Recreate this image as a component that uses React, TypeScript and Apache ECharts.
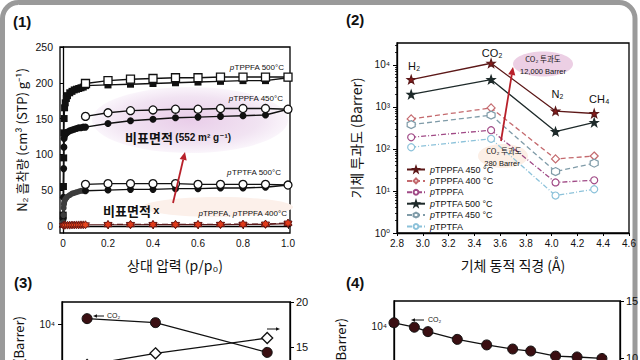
import React, { useEffect, useRef } from 'react';
import * as echarts from 'echarts';

// ---------- Panel (1): N2 adsorption ----------
const p1Pressure = [0.1, 0.2, 0.3, 0.4, 0.5, 0.6, 0.7, 0.8, 0.9, 1.0];
const p1LowPressure = [0.001, 0.002, 0.003, 0.004, 0.005, 0.007, 0.01, 0.015, 0.02, 0.03, 0.04, 0.05, 0.06, 0.07, 0.08, 0.09];
const tppfa500Low = [15, 55, 95, 130, 150, 165, 172, 178, 182, 186, 188, 190, 191, 192, 193, 194];
const tppfa500Ads = [196, 197, 198, 199, 200, 201, 202, 203, 203, 207];
const tppfa500Des = [199, 203, 205, 206, 207, 207, 208, 208, 208, 208];
const tppfa450Low = [10, 40, 80, 110, 122, 126, 128, 130, 131, 133, 134, 135, 136, 137, 137, 138];
const tppfa450Ads = [138, 143, 147, 149, 151, 152, 153, 154, 155, 163];
const tppfa450Des = [153, 158, 161, 162, 163, 163, 164, 164, 164, 163];
const tptfa500Low = [5, 15, 25, 30, 32, 35, 37, 39, 41, 43, 45, 46, 47, 48, 49, 49];
const tptfa500Ads = [49, 50, 51, 51, 52, 52, 53, 53, 54, 57];
const tptfa500Des = [58, 59, 59, 59, 59, 58, 58, 58, 58, 57];
const redLowPressure = [0.002, 0.005, 0.01, 0.02, 0.03, 0.04, 0.05, 0.06, 0.07, 0.08, 0.09, 0.1];
const tppfaLow = [0.5, 0.8, 1, 1, 1, 1.2, 1.2, 1.3, 1.3, 1.4, 1.4, 1.5];
const redPressure = [0.2, 0.3, 0.4, 0.5, 0.6, 0.7, 0.8, 0.9, 1.0];
const tppfaRaw = [1.5, 1.5, 1.6, 1.6, 1.7, 1.8, 1.9, 2, 3];
const tppfa400 = [2, 2, 2, 2, 2, 2.2, 2.4, 2.6, 4];
const p1YTicks = [0, 50, 100, 150, 200, 250];
const p1XTicks = [0, 0.2, 0.4, 0.6, 0.8, 1.0];

// ---------- Panel (2): permeability vs kinetic diameter ----------
const gasNames = ['H₂', 'CO₂', 'N₂', 'CH₄'];
const kineticDiameter = [2.91, 3.53, 4.03, 4.33];
const permTppfa450 = [4500, 11000, 800, 700];
const permTppfa400 = [520, 950, 58, 68];
const permTppfa = [190, 280, 16, 18];
const permTptfa500 = [2000, 4500, 260, 430];
const permTptfa450 = [380, 640, 29, 46];
const permTptfa = [110, 175, 7.8, 11];
const p2Decades = [1, 10, 100, 1000, 10000];

// ---------- Panel (3) ----------
const p3X = [1.1, 4.1, 9.0];
const p3Perm = [13500, 11000, 2400];
const p3Right = [13, 14.3, 16];
const p3RightTicks = [15, 20];
const p3LeftTicks = [10000];

// ---------- Panel (4) ----------
const p4X = [0, 9, 15, 28, 41, 52.5, 60.5, 71.5, 81, 92];
const p4Perm = [11800, 9400, 7500, 5050, 3800, 3080, 2780, 2150, 2050, 1900];
const p4RightTicks = [10, 15];
const p4LeftTicks = [10000];

const STAR6 = 'path://M0,-10L2.885,-5L8.66,-5L5.77,0L8.66,5L2.885,5L0,10L-2.885,5L-8.66,5L-5.77,0L-8.66,-5L-2.885,-5Z';
const STAR5 = 'path://M0,-10L2.351,-3.236L9.511,-3.09L3.804,1.236L5.878,8.09L0,4L-5.878,8.09L-3.804,1.236L-9.511,-3.09L-2.351,-3.236Z';
const HEX = 'path://M0,-10L8.66,-5L8.66,5L0,10L-8.66,5L-8.66,-5Z';

const SANS = "'Liberation Sans', 'DejaVu Sans', Arial, sans-serif";
const KR = "'Noto Sans CJK KR', 'Liberation Sans', sans-serif";
const SUP: Record<string, string> = { '0': '⁰', '1': '¹', '2': '²', '3': '³', '4': '⁴', '5': '⁵' };
const logLabel = (v: number) => '10' + SUP[String(Math.round(Math.log10(v)))];

const pair = (xs: number[], ys: number[]) => xs.map((x, i) => [x, ys[i]]);

function minorTicks(minExp: number, maxExp: number, maxVal: number) {
  const out: number[] = [];
  for (let e = minExp; e <= maxExp; e++) {
    for (let m = 2; m <= 9; m++) {
      const v = m * Math.pow(10, e);
      if (v < maxVal) out.push(v);
    }
  }
  return out;
}

function arrow(x1: number, y1: number, x2: number, y2: number, color: string, width: number, head: number) {
  const dx = x2 - x1, dy = y2 - y1, L = Math.hypot(dx, dy);
  const ux = dx / L, uy = dy / L;
  const bx = x2 - ux * head, by = y2 - uy * head;
  const px = -uy, py = ux, hw = head * 0.45;
  return [
    { type: 'line', z: 50, shape: { x1, y1, x2: bx, y2: by }, style: { stroke: color, lineWidth: width } },
    { type: 'polygon', z: 50, shape: { points: [[x2, y2], [bx + px * hw, by + py * hw], [bx - px * hw, by - py * hw]] }, style: { fill: color } },
  ];
}

function txt(x: number, y: number, text: string, opts: any = {}) {
  return {
    type: 'text', z: 60, x, y,
    style: {
      text, fill: opts.fill || '#111', fontSize: opts.fontSize || 9, fontFamily: opts.fontFamily || SANS,
      fontWeight: opts.fontWeight || 'normal', align: opts.align || 'left', verticalAlign: 'middle',
      rich: opts.rich,
    },
    rotation: opts.rotation || 0,
  };
}

const italicRich = (size: number) => ({ i: { fontStyle: 'italic', fontSize: size, fontFamily: SANS, fill: '#111' } });

export default function App() {
  const ref = useRef<HTMLDivElement>(null);
  useEffect(() => {
    document.body.style.margin = '0';
    const chart = echarts.init(ref.current!, null, { renderer: 'svg' });
    const axisLineStyle = { lineStyle: { color: '#000', width: 1.3 } };
    const tickLabel = { color: '#111', fontSize: 10, fontFamily: SANS };
    const gridBase = { show: true, borderColor: '#000', borderWidth: 1.3, backgroundColor: 'transparent', outerBoundsMode: 'none' };

    const openItem = { color: '#fff', borderColor: '#111', borderWidth: 1.3 };
    const blackLine = { color: '#111', width: 1.4 };

    const gasItem = (i: number, v: number) => ({
      value: [kineticDiameter[i], v],
      label: {
        show: true, formatter: gasNames[i], position: 'top',
        distance: [3, 0, 7, 4][i], offset: [[3, 0], [1, 0], [2, 0], [5, 0]][i],
        color: '#111', fontSize: 11, fontFamily: SANS,
      },
    });

    const p2Series = [
      { name: 'pTPPFA 450 °C', data: permTppfa450.map((v, i) => gasItem(i, v)), color: '#5c1818', sym: STAR5, fill: '#8a1c1c', dash: 'solid', size: 8 },
      { name: 'pTPPFA 400 °C', data: pair(kineticDiameter, permTppfa400), color: '#c46a6e', sym: 'diamond', fill: '#fff', dash: [5, 3], size: 8 },
      { name: 'pTPPFA', data: pair(kineticDiameter, permTppfa), color: '#a04a86', sym: 'circle', fill: '#fff', dash: [5, 2, 1, 2], size: 7 },
      { name: 'pTPTFA 500 °C', data: pair(kineticDiameter, permTptfa500), color: '#1e2a2a', sym: STAR5, fill: '#1e2a2a', dash: 'solid', size: 8 },
      { name: 'pTPTFA 450 °C', data: pair(kineticDiameter, permTptfa450), color: '#7f9ba8', sym: HEX, fill: '#fff', dash: [5, 3], size: 8 },
      { name: 'pTPTFA', data: pair(kineticDiameter, permTptfa), color: '#8cc2da', sym: 'circle', fill: '#fff', dash: [5, 2, 1, 2], size: 7 },
    ];

    const series: any[] = [
      // panel 1
      { type: 'line', name: 'a500', xAxisIndex: 0, yAxisIndex: 0, z: 3, data: pair(p1LowPressure, tppfa500Low).concat(pair(p1Pressure, tppfa500Ads)), symbol: 'rect', symbolSize: 7, itemStyle: { color: '#111' }, lineStyle: blackLine },
      { type: 'line', name: 'd500', xAxisIndex: 0, yAxisIndex: 0, z: 4, data: pair(p1Pressure, tppfa500Des), symbol: 'rect', symbolSize: 8, itemStyle: openItem, lineStyle: blackLine },
      { type: 'line', name: 'a450', xAxisIndex: 0, yAxisIndex: 0, z: 3, data: pair(p1LowPressure, tppfa450Low).concat(pair(p1Pressure, tppfa450Ads)), symbol: 'circle', symbolSize: 7, itemStyle: { color: '#111' }, lineStyle: blackLine },
      { type: 'line', name: 'd450', xAxisIndex: 0, yAxisIndex: 0, z: 4, data: pair(p1Pressure, tppfa450Des), symbol: 'circle', symbolSize: 8, itemStyle: openItem, lineStyle: blackLine },
      { type: 'line', name: 'aT500low', xAxisIndex: 0, yAxisIndex: 0, z: 3, data: pair(p1LowPressure, tptfa500Low), symbol: 'circle', symbolSize: 6, itemStyle: { color: '#3c3c3c' }, lineStyle: { color: '#3c3c3c', width: 3 } },
      { type: 'line', name: 'aT500', xAxisIndex: 0, yAxisIndex: 0, z: 3, data: pair(p1Pressure, tptfa500Ads), symbol: 'circle', symbolSize: 7, itemStyle: { color: '#111' }, lineStyle: blackLine },
      { type: 'line', name: 'dT500', xAxisIndex: 0, yAxisIndex: 0, z: 4, data: pair(p1Pressure, tptfa500Des), symbol: 'circle', symbolSize: 8, itemStyle: openItem, lineStyle: blackLine },
      { type: 'line', name: 'rawTPPFA', xAxisIndex: 0, yAxisIndex: 0, z: 5, data: pair(redLowPressure, tppfaLow).concat(pair(redPressure, tppfaRaw)), symbol: STAR6, symbolSize: 8, itemStyle: { color: '#e8461e', borderColor: '#5a1010', borderWidth: 0.8 }, lineStyle: { color: '#5a1a1a', width: 1.2 } },
      { type: 'line', name: 't400', xAxisIndex: 0, yAxisIndex: 0, z: 5, data: pair(redPressure, tppfa400), symbol: STAR6, symbolSize: 8, itemStyle: { color: '#e03a1a', borderColor: '#5a1010', borderWidth: 0.8 }, lineStyle: { color: '#5a1a1a', width: 1.2, type: [6, 3] } },
      // panel 2
      ...p2Series.map((s) => ({
        type: 'line', name: s.name, xAxisIndex: 1, yAxisIndex: 1, z: 4, data: s.data,
        symbol: s.sym, symbolSize: s.size,
        itemStyle: { color: s.fill, borderColor: s.color, borderWidth: 1.2 },
        lineStyle: { color: s.color, width: 1.3, type: s.dash },
      })),
      // panel 3
      { type: 'line', name: 'p3perm', xAxisIndex: 2, yAxisIndex: 3, z: 4, data: pair(p3X, p3Perm), symbol: 'circle', symbolSize: 10, itemStyle: { color: '#3a0f12', borderColor: '#111', borderWidth: 1 }, lineStyle: { color: '#111', width: 1.3 } },
      { type: 'line', name: 'p3sel', xAxisIndex: 2, yAxisIndex: 4, z: 4, data: pair(p3X, p3Right), symbol: 'diamond', symbolSize: 11, itemStyle: openItem, lineStyle: { color: '#111', width: 1.3 } },
      // panel 4
      { type: 'line', name: 'p4perm', xAxisIndex: 3, yAxisIndex: 5, z: 4, data: pair(p4X, p4Perm), symbol: 'circle', symbolSize: 10, itemStyle: { color: '#3a0f12', borderColor: '#111', borderWidth: 1 }, lineStyle: { color: '#111', width: 1.3 } },
    ];

    const graphic: any[] = [
      { type: 'rect', z: 0, shape: { x: 2.5, y: 2.5, width: 632.5, height: 520, r: 16 }, style: { fill: 'none', stroke: '#9a9a9a', lineWidth: 5 } },
      // highlight ellipses
      { type: 'ellipse', z: 1, shape: { cx: 190, cy: 120, rx: 98, ry: 33 }, style: { fill: new echarts.graphic.RadialGradient(0.5, 0.5, 0.5, [{ offset: 0, color: '#e9cde9' }, { offset: 0.7, color: '#f1e3f2' }, { offset: 1, color: '#faf5fb' }]) } },
      { type: 'ellipse', z: 1, shape: { cx: 218, cy: 207, rx: 75, ry: 10 }, style: { fill: '#fcf0ea' } },
      { type: 'ellipse', z: 1, shape: { cx: 543, cy: 64, rx: 30, ry: 12.5 }, style: { fill: '#eccfe4' } },
      { type: 'ellipse', z: 1, shape: { cx: 503, cy: 156, rx: 25, ry: 12 }, style: { fill: '#fcefe6' } },
      // panel labels
      txt(13, 21, '(1)', { fontSize: 15, fontWeight: 'bold' }),
      txt(346, 19, '(2)', { fontSize: 15, fontWeight: 'bold' }),
      txt(14, 282, '(3)', { fontSize: 15, fontWeight: 'bold' }),
      txt(346, 282, '(4)', { fontSize: 15, fontWeight: 'bold' }),
      // panel 1 annotations
      txt(284, 67, '{i|p}TPPFA 500°C', { fontSize: 8, align: 'right', rich: italicRich(8) }),
      txt(283, 98, '{i|p}TPPFA 450°C', { fontSize: 8, align: 'right', rich: italicRich(8) }),
      txt(281, 172, '{i|p}TPTFA 500°C', { fontSize: 8, align: 'right', rich: italicRich(8) }),
      txt(287, 213, '{i|p}TPPFA, {i|p}TPPFA 400°C', { fontSize: 8, align: 'right', rich: italicRich(8) }),
      txt(125, 137, '{k|비표면적} {n|(552 m² g⁻¹)}', {
        rich: {
          k: { fontSize: 13, fontWeight: 'bold', fontFamily: KR, fill: '#111' },
          n: { fontSize: 10, fontWeight: 'bold', fontFamily: SANS, fill: '#111' },
        },
      }),
      txt(103, 210, '{k|비표면적} {n|x}', {
        rich: {
          k: { fontSize: 13, fontWeight: 'bold', fontFamily: KR, fill: '#111' },
          n: { fontSize: 11, fontWeight: 'bold', fontFamily: SANS, fill: '#111' },
        },
      }),
      ...arrow(173, 203, 185, 152, '#b8202a', 1.8, 8),
      // panel 2 annotations
      txt(543, 58, 'CO₂ 투과도', { fontSize: 7.5, align: 'center', fontFamily: KR }),
      txt(543, 71, '12,000 Barrer', { fontSize: 7.5, align: 'center' }),
      txt(504, 150, 'CO₂ 투과도', { fontSize: 7.5, align: 'center', fontFamily: KR }),
      txt(502, 163, '280 Barrer', { fontSize: 7.5, align: 'center' }),
      ...arrow(501, 141, 513, 67, '#b8202a', 1.8, 8),
      // panel 3/4 annotations
      ...arrow(104, 316, 93, 316, '#111', 1, 4),
      txt(107, 315, 'CO₂', { fontSize: 7 }),
      ...arrow(267, 329, 280, 329, '#111', 1, 4),
      ...arrow(424, 320, 411, 320, '#111', 1, 4),
      txt(428, 319, 'CO₂', { fontSize: 7 }),
      txt(18, 316, '(Barrer)', { fontSize: 13, align: 'right', fontFamily: KR, rotation: Math.PI / 2 }),
      txt(340, 318, '(Barrer)', { fontSize: 13, align: 'right', fontFamily: KR, rotation: Math.PI / 2 }),
    ];

    const option: any = {
      animation: false,
      backgroundColor: '#fff',
      grid: [
        { ...gridBase, left: 60, top: 47, width: 230, height: 186 },
        { ...gridBase, left: 397, top: 43, width: 232, height: 190 },
        { ...gridBase, left: 62, top: 302, width: 228, height: 112.5 },
        { ...gridBase, left: 394, top: 301, width: 226, height: 115 },
      ],
      legend: {
        left: 401, top: 160, orient: 'vertical', itemWidth: 18, itemHeight: 6, itemGap: 2.4,
        data: p2Series.map((s) => s.name),
        formatter: (n: string) => '{i|p}' + n.slice(1),
        textStyle: { fontSize: 9, lineHeight: 9, color: '#111', fontFamily: SANS, rich: { i: { fontStyle: 'italic', fontSize: 9, lineHeight: 9, fontFamily: SANS, color: '#111' } } },
        selectedMode: false,
      },
      xAxis: [
        {
          gridIndex: 0, type: 'value', min: -0.0133, max: 1.0089, axisLine: axisLineStyle,
          axisTick: { show: true, length: 3, customValues: p1XTicks, lineStyle: { color: '#000' } },
          axisLabel: { ...tickLabel, margin: 5, customValues: p1XTicks, formatter: (v: number) => (v === 0 ? '0' : v.toFixed(1)) },
          splitLine: { show: false },
          name: '상대 압력 (p/p₀)', nameLocation: 'middle', nameGap: 25,
          nameTextStyle: { fontSize: 14, fontFamily: KR, color: '#111' },
        },
        {
          gridIndex: 1, type: 'value', min: 2.8, max: 4.6, interval: 0.2, axisLine: axisLineStyle,
          axisTick: { show: true, length: 3, lineStyle: { color: '#000' } },
          axisLabel: { ...tickLabel, margin: 5, formatter: (v: number) => v.toFixed(1) },
          splitLine: { show: false },
          name: '기체 동적 직경 (Å)', nameLocation: 'middle', nameGap: 25,
          nameTextStyle: { fontSize: 14, fontFamily: KR, color: '#111' },
        },
        { gridIndex: 2, type: 'value', min: 0, max: 10, axisLine: axisLineStyle, axisTick: { show: false }, axisLabel: { show: false }, splitLine: { show: false } },
        { gridIndex: 3, type: 'value', min: 0, max: 100, axisLine: axisLineStyle, axisTick: { show: false }, axisLabel: { show: false }, splitLine: { show: false } },
      ],
      yAxis: [
        {
          gridIndex: 0, type: 'value', min: -10, max: 250, axisLine: axisLineStyle,
          axisTick: { show: true, length: 3, customValues: p1YTicks, lineStyle: { color: '#000' } },
          axisLabel: { ...tickLabel, fontSize: 10.5, margin: 7, customValues: p1YTicks },
          splitLine: { show: false },
          name: 'N₂ 흡착량 (cm³ (STP) g⁻¹)', nameLocation: 'middle', nameGap: 32,
          nameTextStyle: { fontSize: 13, fontFamily: KR, color: '#111' },
        },
        {
          gridIndex: 1, type: 'log', logBase: 10, min: 1, max: 33400, axisLine: axisLineStyle,
          axisTick: { show: true, length: 4, customValues: p2Decades, lineStyle: { color: '#000' } },
          axisLabel: { ...tickLabel, margin: 7, customValues: p2Decades, formatter: logLabel },
          splitLine: { show: false },
          name: '기체 투과도 (Barrer)', nameLocation: 'middle', nameGap: 34,
          nameTextStyle: { fontSize: 14, fontFamily: KR, color: '#111' },
        },
        {
          gridIndex: 1, type: 'log', logBase: 10, min: 1, max: 33400, position: 'left',
          axisLine: { show: false }, axisLabel: { show: false }, splitLine: { show: false },
          axisTick: { show: true, length: 2, customValues: minorTicks(0, 4, 33400), lineStyle: { color: '#000', width: 0.8 } },
        },
        {
          gridIndex: 2, type: 'log', logBase: 10, min: 100, max: 31623, position: 'left', axisLine: axisLineStyle,
          axisTick: { show: true, length: 4, customValues: p3LeftTicks, lineStyle: { color: '#000' } },
          axisLabel: { ...tickLabel, margin: 7, customValues: p3LeftTicks, formatter: logLabel },
          splitLine: { show: false },
        },
        {
          gridIndex: 2, type: 'value', min: 7.5, max: 20, position: 'right', axisLine: axisLineStyle,
          axisTick: { show: true, length: 4, customValues: p3RightTicks, lineStyle: { color: '#000' } },
          axisLabel: { ...tickLabel, fontSize: 11, margin: 6, customValues: p3RightTicks },
          splitLine: { show: false },
        },
        {
          gridIndex: 3, type: 'log', logBase: 10, min: 100, max: 35975, position: 'left', axisLine: axisLineStyle,
          axisTick: { show: true, length: 4, customValues: p4LeftTicks, lineStyle: { color: '#000' } },
          axisLabel: { ...tickLabel, margin: 7, customValues: p4LeftTicks, formatter: logLabel },
          splitLine: { show: false },
        },
        {
          gridIndex: 3, type: 'value', min: 4.9, max: 15, position: 'right', axisLine: axisLineStyle,
          axisTick: { show: true, length: 4, customValues: p4RightTicks, lineStyle: { color: '#000' } },
          axisLabel: { ...tickLabel, fontSize: 11, margin: 6, customValues: p4RightTicks },
          splitLine: { show: false },
        },
      ],
      series,
      graphic,
    };
    chart.setOption(option);
    return () => chart.dispose();
  }, []);
  return <div ref={ref} style={{ width: 640, height: 360 }} />;
}
